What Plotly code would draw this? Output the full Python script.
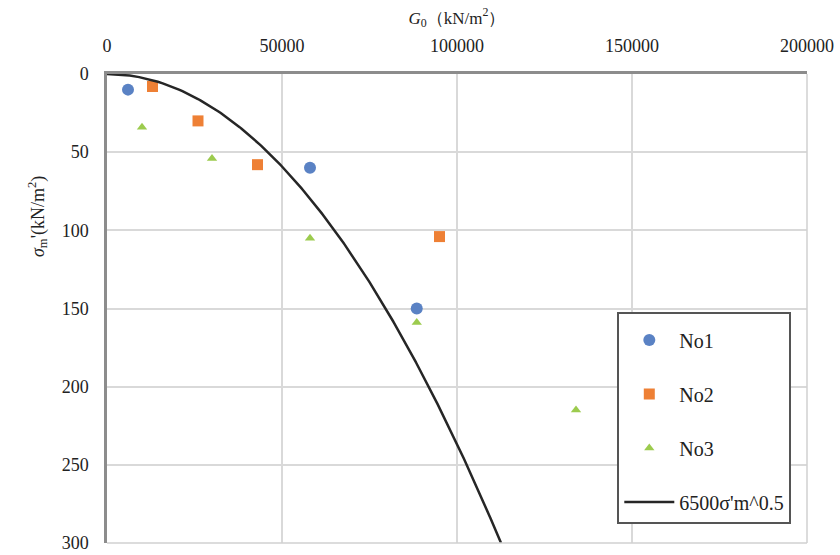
import numpy as np
import plotly.graph_objects as go

# Data
no1_G = [6000, 58000, 88500]
no1_s = [10, 60, 150]

no2_G = [13000, 26000, 43000, 95000]
no2_s = [8, 30, 58, 104]

no3_G = [10000, 30000, 58000, 88500, 134000]
no3_s = [34, 54, 105, 159, 215]

fit_coef = 6500
fit_exp = 0.5
fit_s = np.linspace(0, 300, 301)
fit_G = fit_coef * fit_s ** fit_exp

x_ticks = [0, 50000, 100000, 150000, 200000]
y_ticks = [0, 50, 100, 150, 200, 250, 300]

FONT = "Liberation Serif"
TICKFONT = dict(family=FONT, size=18, color="#222")

fig = go.Figure()
fig.add_trace(go.Scatter(x=no1_G, y=no1_s, mode="markers", name="No1",
                         legendgroup="a",
                         marker=dict(symbol="circle", size=12, color="#5A82C4")))
fig.add_trace(go.Scatter(x=no2_G, y=no2_s, mode="markers", name="No2",
                         legendgroup="b",
                         marker=dict(symbol="square", size=11, color="#EE8035")))
fig.add_trace(go.Scatter(x=no3_G, y=no3_s, mode="markers", name="No3",
                         legendgroup="c",
                         marker=dict(symbol="triangle-up", size=9, color="#9CCB4E")))
fig.add_trace(go.Scatter(x=fit_G, y=fit_s, mode="lines", name="6500σ'm^0.5",
                         legendgroup="d",
                         line=dict(color="#262626", width=2.5)))

fig.update_layout(
    width=840, height=555,
    margin=dict(l=107, r=33, t=74, b=12),
    paper_bgcolor="white", plot_bgcolor="white",
    font=dict(family=FONT, size=18, color="#222"),
    showlegend=True,
    legend=dict(x=0.729, y=0.4925, xanchor="left", yanchor="top",
                bgcolor="white", bordercolor="#555", borderwidth=2,
                font=dict(family=FONT, size=20, color="#222"),
                title=dict(text=" ", font=dict(size=5)),
                traceorder="grouped", tracegroupgap=25,
                itemwidth=50),
    xaxis=dict(side="top", range=[0, 200000], tickvals=x_ticks,
               ticktext=[str(v) for v in x_ticks], tickfont=TICKFONT,
               automargin=False,
               showgrid=True, gridcolor="#D9D9D9", gridwidth=1.5,
               showline=True, linecolor="#8C8C8C", linewidth=2.5,
               zeroline=False, ticks="", ticklabelstandoff=12,
               title=dict(text="<i>G</i><sub>0</sub>（kN/m<sup>2</sup>）",
                          font=dict(family=FONT, size=17), standoff=8)),
    yaxis=dict(range=[300, 0], tickvals=y_ticks, tickfont=TICKFONT,
               automargin=False,
               showgrid=True, gridcolor="#D9D9D9", gridwidth=1.5,
               showline=True, linecolor="#8C8C8C", linewidth=2.5,
               zeroline=False, ticks="", ticklabelstandoff=12),
    annotations=[dict(text="<i>σ</i><sub>m</sub>'(kN/m<sup>2</sup>)",
                      textangle=-90, xref="paper", yref="paper",
                      x=-0.1, y=0.695, xanchor="center", yanchor="middle",
                      showarrow=False,
                      font=dict(family=FONT, size=18))],
)
# right and bottom border as light lines
fig.add_shape(type="line", xref="paper", yref="paper", x0=1, x1=1, y0=0, y1=1,
              line=dict(color="#D0D0D0", width=1.5))
fig.add_shape(type="line", xref="paper", yref="paper", x0=0, x1=1, y0=0, y1=0,
              line=dict(color="#D0D0D0", width=1.5))

fig.write_html("out.html",
               config={"displayModeBar": False},
               post_script="document.body.style.margin='0';document.body.style.overflow='hidden';")
